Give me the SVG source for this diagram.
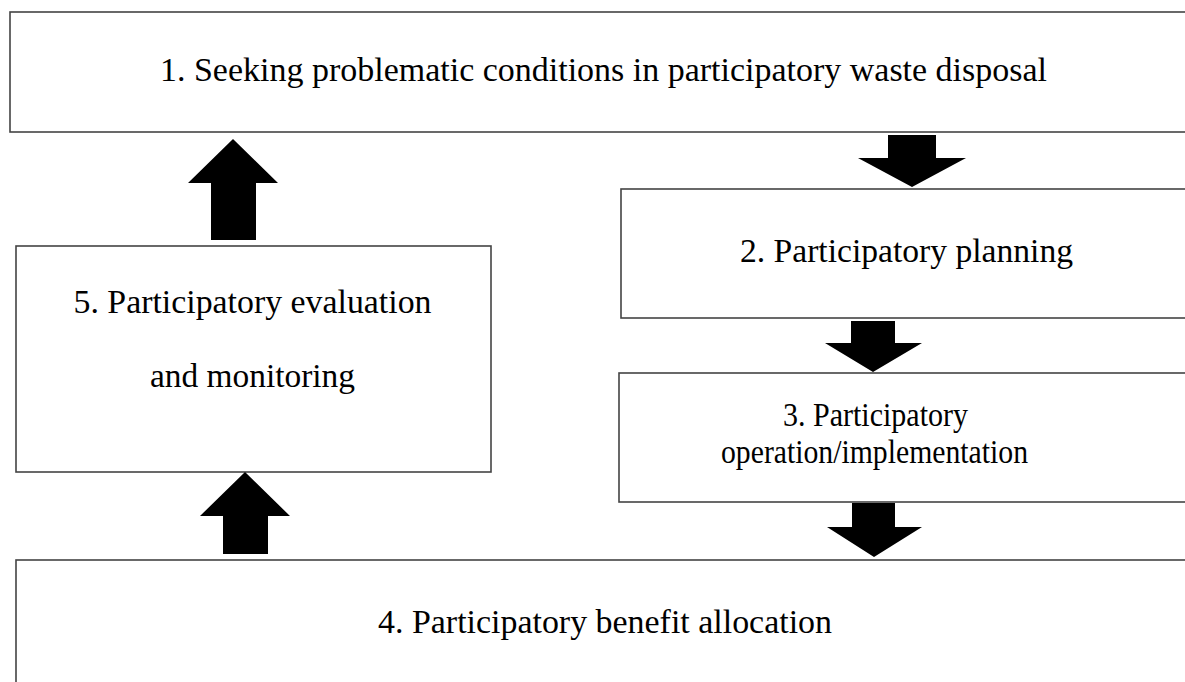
<svg xmlns="http://www.w3.org/2000/svg" width="1185" height="682" viewBox="0 0 1185 682">
  <style>
    .box { fill: #ffffff; stroke: #444444; stroke-width: 1.6; }
    .label { font-family: "Liberation Serif", "Times New Roman", serif; font-size: 34px; fill: #000000; text-anchor: middle; }
    .arrow { fill: #000000; stroke: none; }
  </style>
  <rect width="1185" height="682" fill="#ffffff"/>

  <!-- Step 1 -->
  <g id="node1">
    <rect class="box" x="10" y="12" width="1200" height="120"/>
    <text class="label" x="603.5" y="81" textLength="887" lengthAdjust="spacingAndGlyphs">1. Seeking problematic conditions in participatory waste disposal</text>
  </g>

  <!-- Step 2 -->
  <g id="node2">
    <rect class="box" x="621" y="189" width="600" height="129"/>
    <text class="label" x="906.5" y="262" textLength="333" lengthAdjust="spacingAndGlyphs">2. Participatory planning</text>
  </g>

  <!-- Step 3 -->
  <g id="node3">
    <rect class="box" x="619" y="373" width="600" height="129"/>
    <text class="label" x="875.5" y="426" textLength="185" lengthAdjust="spacingAndGlyphs">3. Participatory</text>
    <text class="label" x="874.5" y="463" textLength="307" lengthAdjust="spacingAndGlyphs">operation/implementation</text>
  </g>

  <!-- Step 4 -->
  <g id="node4">
    <rect class="box" x="16" y="560" width="1200" height="140"/>
    <text class="label" x="605" y="633" textLength="454" lengthAdjust="spacingAndGlyphs">4. Participatory benefit allocation</text>
  </g>

  <!-- Step 5 -->
  <g id="node5">
    <rect class="box" x="16" y="246" width="475" height="226"/>
    <text class="label" x="252.5" y="313" textLength="358" lengthAdjust="spacingAndGlyphs">5. Participatory evaluation</text>
    <text class="label" x="252.5" y="387" textLength="205" lengthAdjust="spacingAndGlyphs">and monitoring</text>
  </g>

  <!-- Block arrows between steps -->
  <g id="connectors">
    <polygon class="arrow" points="888,135 936,135 936,158 966,158 912,187 858,158 888,158"/>
    <polygon class="arrow" points="851,321 895,321 895,343 922,343 873,372 825,343 851,343"/>
    <polygon class="arrow" points="852,503 895,503 895,527 922,527 874,557 827,527 852,527"/>
    <polygon class="arrow" points="223,554 268,554 268,516 290,516 245,472 200,516 223,516"/>
    <polygon class="arrow" points="211,240 256,240 256,183 278,183 233,139 188,183 211,183"/>
  </g>
</svg>
